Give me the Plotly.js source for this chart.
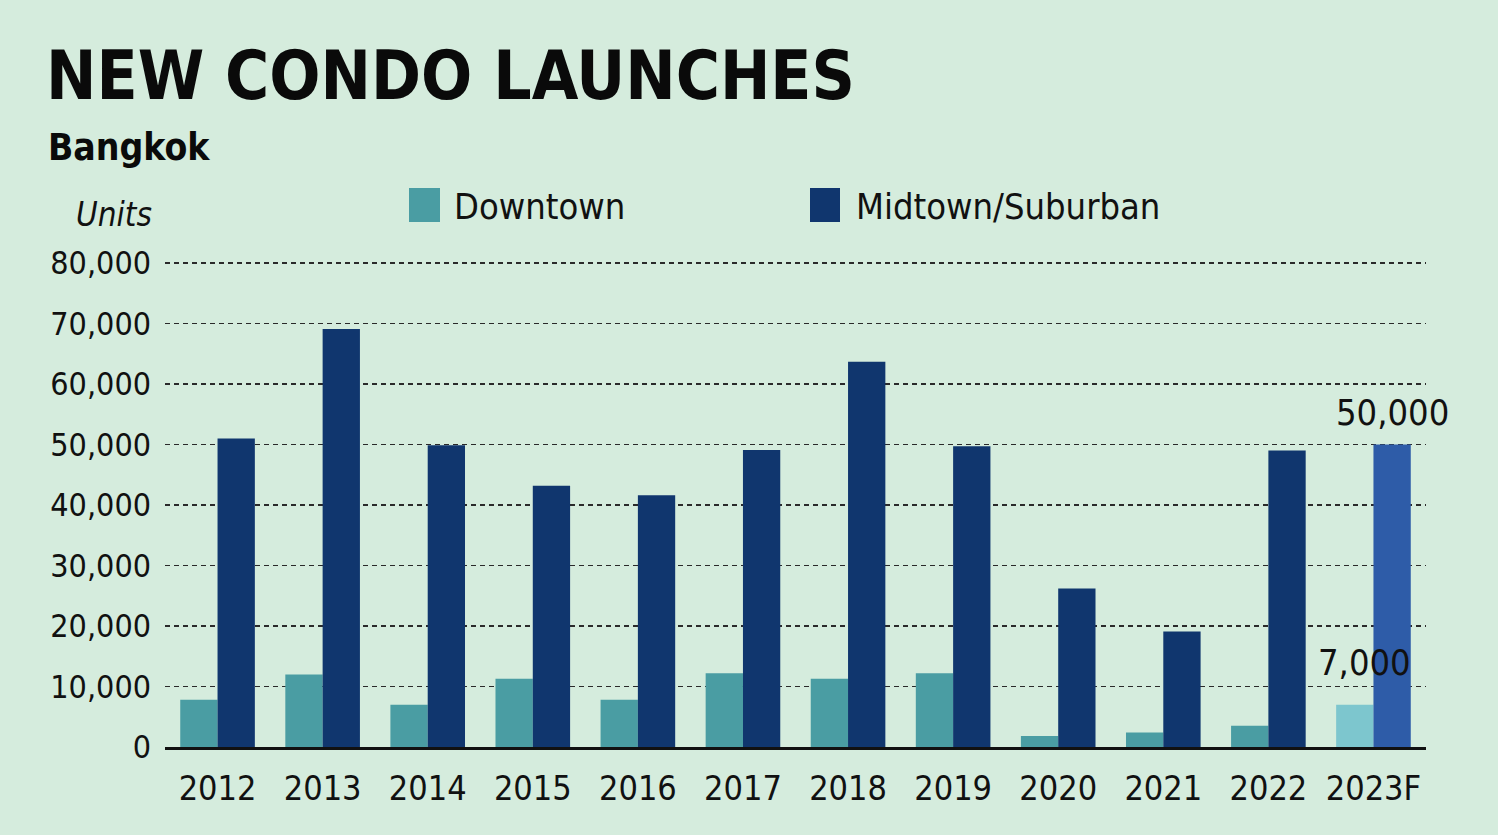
<!DOCTYPE html>
<html>
<head>
<meta charset="utf-8">
<script src="https://cdn.plot.ly/plotly-3.0.1.min.js"></script>
<style>
  html, body { margin: 0; padding: 0; background: #d5ecdd; }
  #chart { width: 1498px; height: 835px; }
</style>
</head>
<body>
<div id="chart"></div>
<script>
// ---- Data ----
const years = ['2012','2013','2014','2015','2016','2017','2018','2019','2020','2021','2022','2023F'];
const downtown = [7800, 12000, 7000, 11300, 7800, 12200, 11300, 12200, 1800, 2400, 3500, 7000];
const midtown = [51000, 69100, 49900, 43200, 41600, 49100, 63700, 49700, 26200, 19100, 49000, 50000];
const yTicks = [0, 10000, 20000, 30000, 40000, 50000, 60000, 70000, 80000];
const seriesNames = ['Downtown', 'Midtown/Suburban'];
const titleText = 'NEW CONDO LAUNCHES';
const subtitleText = 'Bangkok';
const unitText = 'Units';

// ---- Style ----
const BG = '#d5ecdd';
const C_DT = '#4a9da3', C_DT_F = '#7dc6ce';
const C_MT = '#10366e', C_MT_F = '#2e5ca8';
const NARROW = '"Liberation Sans Narrow", "DejaVu Sans Condensed", "Arial Narrow", sans-serif';
const isForecast = y => y.endsWith('F');
const fmt = v => v.toLocaleString('en-US');

const traces = [
  {
    type: 'bar', name: seriesNames[0], x: years, y: downtown,
    marker: { color: years.map(y => isForecast(y) ? C_DT_F : C_DT), line: { width: 0 } },
    showlegend: false, hoverinfo: 'x+y'
  },
  {
    type: 'bar', name: seriesNames[1], x: years, y: midtown,
    marker: { color: years.map(y => isForecast(y) ? C_MT_F : C_MT), line: { width: 0 } },
    showlegend: false, hoverinfo: 'x+y'
  }
];

const L = 165, R = 1426, T = 257, B = 747;
const W = R - L, H = B - T;
const px = x => (x - L) / W;
const py = y => (B - y) / H;

const last = years.length - 1;
const annotations = [
  { xref: 'paper', yref: 'paper', x: px(154), y: py(214), xanchor: 'right', yanchor: 'middle',
    text: unitText, showarrow: false, font: { family: NARROW, size: 33, style: 'italic', color: '#111' } },
  { xref: 'paper', yref: 'paper', x: px(46), y: py(147), xanchor: 'left', yanchor: 'middle',
    text: subtitleText, showarrow: false, font: { family: NARROW, size: 37, weight: 700, color: '#0a0a0a' } },
  { xref: 'paper', yref: 'paper', x: px(452), y: py(206), xanchor: 'left', yanchor: 'middle',
    text: seriesNames[0], showarrow: false, font: { family: NARROW, size: 36, color: '#111' } },
  { xref: 'paper', yref: 'paper', x: px(854), y: py(206), xanchor: 'left', yanchor: 'middle',
    text: seriesNames[1], showarrow: false, font: { family: NARROW, size: 36, color: '#111' } },
  { xref: 'x', yref: 'y', x: years[last], y: downtown[last], xanchor: 'center', yanchor: 'bottom',
    xshift: -9, yshift: 20, text: fmt(downtown[last]), showarrow: false,
    font: { family: NARROW, size: 36, color: '#111' } },
  { xref: 'x', yref: 'y', x: years[last], y: midtown[last], xanchor: 'center', yanchor: 'bottom',
    xshift: 19, yshift: 10, text: fmt(midtown[last]), showarrow: false,
    font: { family: NARROW, size: 36, color: '#111' } }
];

const shapes = [
  { type: 'rect', xref: 'paper', yref: 'paper', x0: px(409), x1: px(440), y0: py(222), y1: py(188),
    fillcolor: C_DT, line: { width: 0 } },
  { type: 'rect', xref: 'paper', yref: 'paper', x0: px(810), x1: px(840), y0: py(222), y1: py(188),
    fillcolor: C_MT, line: { width: 0 } }
];

const layout = {
  width: 1498, height: 835, autosize: false,
  paper_bgcolor: BG, plot_bgcolor: BG,
  margin: { l: L, r: 1498 - R, t: T, b: 835 - B, pad: 0 },
  title: {
    text: titleText, xref: 'container', yref: 'container',
    x: 46 / 1498, xanchor: 'left', y: 1 - 52 / 835, yanchor: 'top',
    font: { family: NARROW, size: 67, weight: 700, color: '#0a0a0a' }
  },
  barmode: 'group', bargap: 0.29, bargroupgap: 0,
  showlegend: false,
  xaxis: {
    type: 'category', categoryorder: 'array', categoryarray: years,
    range: [-0.5, years.length - 0.5],
    showline: true, linecolor: '#111', linewidth: 2.5,
    showgrid: false, ticks: '', ticklabelstandoff: 10, tickangle: 0,
    tickfont: { family: NARROW, size: 34, color: '#111' },
    fixedrange: true
  },
  yaxis: {
    range: [0, 81000], tickvals: yTicks, ticktext: yTicks.map(fmt),
    showgrid: true, gridcolor: '#2a2a2a', gridwidth: 1.2, griddash: '5px,4px',
    zeroline: false, showline: false, ticks: '', ticklabelstandoff: 13,
    tickfont: { family: NARROW, size: 32, color: '#111' },
    fixedrange: true
  },
  annotations: annotations,
  shapes: shapes
};

Plotly.newPlot('chart', traces, layout, { displayModeBar: false, staticPlot: true });
</script>
</body>
</html>
